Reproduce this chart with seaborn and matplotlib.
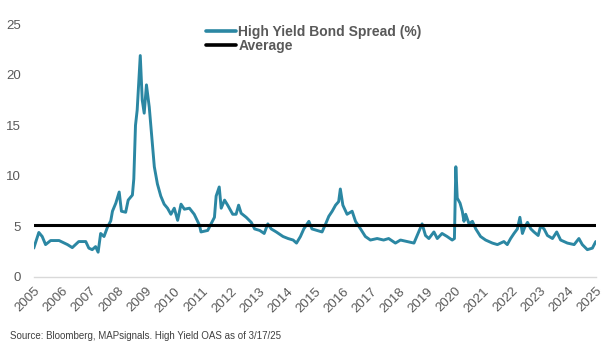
import numpy as np
import pandas as pd
import matplotlib
matplotlib.use("Agg")
import matplotlib.pyplot as plt
import seaborn as sns

# values (fractional year, spread %)
years = [2005.0, 2005.18, 2005.3, 2005.42, 2005.6, 2005.9, 2006.2, 2006.37, 2006.6, 2006.85,
         2006.96, 2007.08, 2007.2, 2007.29, 2007.38, 2007.5, 2007.62, 2007.74, 2007.8, 2007.92,
         2008.04, 2008.12, 2008.27, 2008.36, 2008.51, 2008.56, 2008.62, 2008.68, 2008.79, 2008.86,
         2008.93, 2009.01, 2009.11, 2009.23, 2009.29, 2009.4, 2009.52, 2009.64, 2009.76, 2009.88,
         2010.0, 2010.12, 2010.24, 2010.36, 2010.54, 2010.71, 2010.9, 2010.95, 2011.19, 2011.3,
         2011.43, 2011.49, 2011.6, 2011.67, 2011.79, 2011.9, 2012.08, 2012.2, 2012.29, 2012.38,
         2012.56, 2012.74, 2012.86, 2013.04, 2013.2, 2013.33, 2013.45, 2013.63, 2013.87, 2014.05,
         2014.23, 2014.35, 2014.49, 2014.61, 2014.79, 2014.9, 2015.08, 2015.26, 2015.38, 2015.5,
         2015.62, 2015.74, 2015.85, 2015.91, 2016.0, 2016.15, 2016.33, 2016.45, 2016.63, 2016.8,
         2016.98, 2017.22, 2017.45, 2017.63, 2017.87, 2018.05, 2018.29, 2018.53, 2018.7, 2018.82,
         2018.94, 2019.06, 2019.24, 2019.36, 2019.53, 2019.71, 2019.89, 2019.97, 2020.02, 2020.07,
         2020.17, 2020.25, 2020.31, 2020.37, 2020.49, 2020.61, 2020.73, 2020.9, 2021.08, 2021.32,
         2021.5, 2021.73, 2021.85, 2021.97, 2022.09, 2022.21, 2022.3, 2022.39, 2022.47, 2022.57,
         2022.69, 2022.8, 2022.95, 2023.04, 2023.16, 2023.28, 2023.46, 2023.61, 2023.75, 2023.99,
         2024.23, 2024.4, 2024.52, 2024.7, 2024.88, 2025.0]
spread = [2.85, 4.4, 4.0, 3.2, 3.6, 3.6, 3.2, 2.9, 3.5, 3.5,
          2.85, 2.7, 3.0, 2.45, 4.3, 4.0, 4.9, 5.55, 6.5, 7.3,
          8.4, 6.5, 6.4, 7.6, 8.1, 9.7, 15.0, 16.5, 21.9, 17.5,
          16.2, 19.0, 16.8, 12.9, 10.9, 9.2, 8.0, 7.2, 6.8, 6.2,
          6.8, 5.6, 7.2, 6.7, 6.8, 6.2, 5.1, 4.45, 4.6, 5.2,
          5.9, 8.0, 8.9, 6.8, 7.6, 7.1, 6.2, 6.2, 7.1, 6.3,
          5.9, 5.4, 4.75, 4.6, 4.3, 5.25, 4.75, 4.45, 4.0, 3.8,
          3.65, 3.35, 4.0, 4.75, 5.5, 4.75, 4.6, 4.45, 5.2, 6.0,
          6.5, 7.1, 7.45, 8.7, 7.1, 6.2, 6.5, 5.5, 4.75, 4.0,
          3.65, 3.8, 3.65, 3.8, 3.35, 3.65, 3.5, 3.35, 4.45, 5.25,
          4.1, 3.8, 4.45, 3.8, 4.3, 4.0, 3.65, 3.8, 10.9, 7.8,
          7.3, 6.5, 5.5, 6.2, 5.25, 5.5, 4.75, 4.0, 3.65, 3.35,
          3.2, 3.5, 3.2, 3.8, 4.3, 4.75, 5.9, 4.3, 4.9, 5.4,
          4.75, 4.45, 4.1, 5.05, 4.75, 4.1, 3.8, 4.45, 3.65, 3.35,
          3.2, 3.8, 3.2, 2.7, 2.85, 3.5]
average = 5.1
tick_years = list(range(2005, 2026))

df = pd.DataFrame({"year": years, "spread": spread})
avg_df = pd.DataFrame({"year": [2005.0, 2025.0], "spread": [average, average]})

sns.set_style("white")
plt.rcParams['font.family'] = ['Liberation Sans', 'DejaVu Sans']

fig = plt.figure(figsize=(6.03, 3.51), dpi=100)
ax = fig.add_axes([0.056, 0.211, 0.932, 0.72])

teal = '#2b87a3'
gray = '#595959'
sns.lineplot(data=df, x="year", y="spread", ax=ax, color=teal, linewidth=2.1,
             label="High Yield Bond Spread (%)")
sns.lineplot(data=avg_df, x="year", y="spread", ax=ax, color='black', linewidth=2.2,
             label="Average")

ax.set_xlim(2005, 2025)
ax.set_ylim(0, 25)
ax.set_yticks([0, 5, 10, 15, 20, 25])
ax.set_xticks(tick_years)
ax.set_xticklabels([str(y) for y in tick_years], rotation=45, ha='right',
                   rotation_mode='anchor')
ax.tick_params(axis='y', length=0, labelsize=9.5, labelcolor=gray, pad=9)
ax.tick_params(axis='x', length=4, color='#d9d9d9', labelsize=9.5, labelcolor=gray, pad=2)
ax.set_xlabel("")
ax.set_ylabel("")
for s in ['top', 'right', 'left']:
    ax.spines[s].set_visible(False)
ax.spines['bottom'].set_color('#d9d9d9')
ax.spines['bottom'].set_linewidth(1)

leg = ax.legend(loc='upper left', bbox_to_anchor=(0.285, 1.045), frameon=False,
                handlelength=2.1, handletextpad=0.2, labelspacing=0.0,
                prop={'weight': 'bold', 'size': 10})
for t in leg.get_texts():
    t.set_color(gray)
for h in leg.get_lines():
    h.set_linewidth(2.6)

fig.text(0.017, 0.035, "Source: Bloomberg, MAPsignals. High Yield OAS as of 3/17/25",
         fontsize=7, color='#404040')

fig.savefig("out.png", dpi=100)
